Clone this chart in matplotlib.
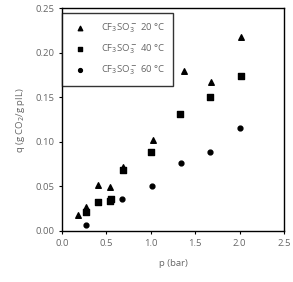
import matplotlib
matplotlib.use("Agg")
import matplotlib.pyplot as plt

plt.rcParams['font.family'] = ['Open Sans', 'DejaVu Sans']

# 20 °C
p20 = [0.18, 0.27, 0.41, 0.54, 0.69, 1.03, 1.37, 1.68, 2.02]
q20 = [0.018, 0.027, 0.052, 0.049, 0.072, 0.102, 0.180, 0.167, 0.218]
# 40 °C
p40 = [0.27, 0.40, 0.54, 0.55, 0.69, 1.00, 1.33, 1.67, 2.02]
q40 = [0.021, 0.033, 0.034, 0.036, 0.069, 0.089, 0.131, 0.151, 0.174]
# 60 °C
p60 = [0.27, 0.40, 0.54, 0.67, 1.01, 1.34, 1.67, 2.00]
q60 = [0.007, 0.033, 0.035, 0.036, 0.051, 0.076, 0.089, 0.116]

labels = [r'CF$_3$SO$_3^{\bf -}$ 20 °C', r'CF$_3$SO$_3^{\bf -}$ 40 °C', r'CF$_3$SO$_3^{\bf -}$ 60 °C']

fig = plt.figure(figsize=(2.93, 2.82), dpi=100)
ax = fig.add_axes([0.212, 0.181, 0.757, 0.789])

ax.scatter(p20, q20, marker='^', s=16, c='black', label=labels[0])
ax.scatter(p40, q40, marker='s', s=14, c='black', label=labels[1])
ax.scatter(p60, q60, marker='o', s=12, c='black', label=labels[2])

ax.set_xlim(0, 2.5)
ax.set_ylim(0, 0.25)
ax.set_xticks([0.0, 0.5, 1.0, 1.5, 2.0, 2.5])
ax.set_xticklabels(['0.0', '0.5', '1.0', '1.5', '2.0', '2.5'])
ax.set_yticks([0.0, 0.05, 0.10, 0.15, 0.20, 0.25])
ax.set_yticklabels(['0.00', '0.05', '0.10', '0.15', '0.20', '0.25'])
ax.tick_params(labelsize=6.8, colors='black', labelcolor='#666666', length=2.5, width=0.8, pad=3)
for s in ax.spines.values():
    s.set_linewidth(1.0)

ax.set_xlabel('p (bar)', fontsize=6.8, color='#666666', labelpad=8)
ax.set_ylabel(r'q (g CO$_2$/g pIL)', fontsize=6.8, color='#666666', labelpad=6)

leg = ax.legend(loc='upper left', bbox_to_anchor=(0.0, 0.98), fontsize=6.8, frameon=True,
                fancybox=False, edgecolor='black', borderpad=0.9, labelspacing=0.8,
                handletextpad=1.2, borderaxespad=0, markerscale=0.8)
leg.get_frame().set_linewidth(1.0)
for t in leg.get_texts():
    t.set_color('#666666')

fig.savefig('out.png', dpi=100)
